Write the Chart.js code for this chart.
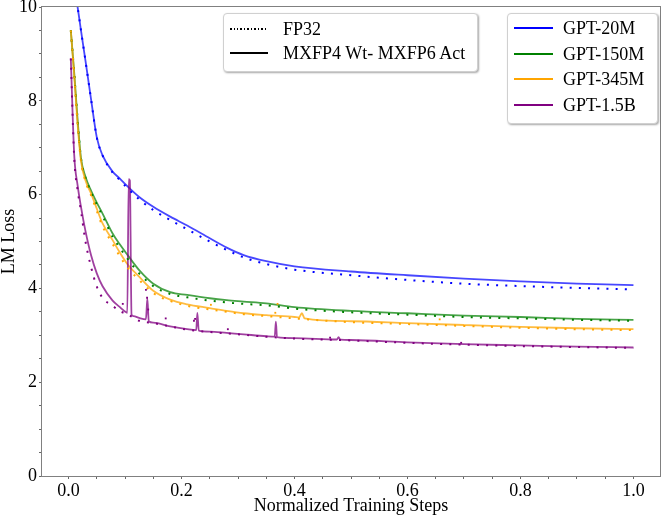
<!DOCTYPE html>
<html>
<head>
<meta charset="utf-8">
<script src="https://cdn.jsdelivr.net/npm/chart.js@4.4.1/dist/chart.umd.min.js"></script>
<style>
  body { margin: 0; background: #fff; }
  #wrap { position: relative; width: 664px; height: 517px; }
  canvas { position: absolute; left: 0; top: 0; }
  .legend {
    position: absolute; background: #fff; border: 1px solid #d0d0d0; border-radius: 4px;
    box-shadow: 1px 1px 2px rgba(0,0,0,0.35);
    font-family: 'Liberation Serif', 'Times New Roman', serif; font-size: 18px; color: #000;
  }
  .row { position: absolute; height: 20px; line-height: 20px; white-space: nowrap; }
  .sample { position: absolute; top: 9px; height: 2px; }
  .label { position: absolute; top: 0; }
</style>
</head>
<body>
<div id="wrap">
  <canvas id="chart" width="664" height="517"></canvas>
  <div class="legend" style="left:223px; top:13px; width:253px; height:57px;">
    <div class="row" style="top:5px; left:0; width:250px;">
      <div class="sample" style="left:6px; width:38px; height:1.5px; background: repeating-linear-gradient(90deg, #000 0 1.5px, transparent 1.5px 3.5px);"></div>
      <div class="label" style="left:59px;">FP32</div>
    </div>
    <div class="row" style="top:29px; left:0; width:250px;">
      <div class="sample" style="left:6px; width:38px; background:#000;"></div>
      <div class="label" style="left:59px;">MXFP4 Wt- MXFP6 Act</div>
    </div>
  </div>
  <div class="legend" id="legend2" style="left:507px; top:13px; width:149px; height:109px;"></div>
</div>
<script>
// normalized training steps (shared x grid)
const steps = [0.004, 0.01, 0.016, 0.022, 0.03, 0.04, 0.05, 0.06, 0.078, 0.09, 0.104, 0.125,
               0.15, 0.18, 0.21, 0.25, 0.28, 0.31, 0.35, 0.4, 0.5, 0.6, 0.7, 0.8, 0.9, 1.0]
// x grid for series with loss spikes
const steps345 = [0.004, 0.01, 0.016, 0.022, 0.03, 0.04, 0.05, 0.06, 0.078, 0.09, 0.104, 0.125,
                  0.15, 0.18, 0.21, 0.25, 0.28, 0.31, 0.35, 0.4, 0.408, 0.413, 0.418, 0.5, 0.6, 0.7, 0.8, 0.9, 1.0]
const steps1p5 = [0.004, 0.01, 0.016, 0.022, 0.03, 0.04, 0.05, 0.06, 0.078, 0.09, 0.102, 0.104, 0.1065, 0.1085,
                  0.1115, 0.115, 0.125, 0.137, 0.1395, 0.142, 0.15, 0.18, 0.21, 0.226, 0.228, 0.2305, 0.25,
                  0.28, 0.31, 0.35, 0.365, 0.367, 0.369, 0.4, 0.475, 0.478, 0.481, 0.5, 0.6, 0.7, 0.8, 0.9, 1.0]

// FP32 runs
const fp20M  = [10.9, 10.4, 10.0, 9.5, 8.85, 8.02, 7.22, 6.84, 6.47, 6.32, 6.14, 5.90, 5.67, 5.46, 5.26, 5.00, 4.82, 4.66, 4.52, 4.40, 4.28, 4.18, 4.10, 4.05, 4.01, 3.98]
const fp150M = [9.5, 8.6, 7.6, 6.78, 6.36, 6.05, 5.79, 5.55, 5.10, 4.88, 4.64, 4.32, 4.05, 3.88, 3.81, 3.74, 3.70, 3.67, 3.64, 3.57, 3.49, 3.44, 3.39, 3.36, 3.33, 3.31]
const fp345M = [9.5, 8.55, 7.5, 6.72, 6.28, 5.98, 5.65, 5.33, 4.95, 4.70, 4.45, 4.18, 3.90, 3.73, 3.63, 3.55, 3.50, 3.45, 3.41, 3.36, 3.28, 3.24, 3.20, 3.16, 3.13, 3.11]
const fp1p5B = [8.9, 6.8, 6.1, 5.65, 5.0, 4.45, 4.04, 3.80, 3.63, 3.52, 3.45, 3.31, 3.26, 3.19, 3.12, 3.07, 3.04, 3.01, 2.97, 2.93, 2.89, 2.84, 2.80, 2.77, 2.75, 2.73]

// FP32 stray evaluation points off the curve
const strayX345 = [0.252, 0.366, 0.37, 0.657]
const strayY345 = [3.65, 3.48, 3.67, 3.34]
const strayX1p5 = [0.096, 0.137, 0.139, 0.141, 0.172, 0.222, 0.224, 0.282, 0.463, 0.695]
const strayY1p5 = [3.67, 3.97, 3.80, 3.55, 3.36, 3.31, 3.35, 3.13, 2.95, 2.84]

// MXFP4 weights / MXFP6 activations runs
const mx20M  = [10.9, 10.4, 10.0, 9.5, 8.85, 8.02, 7.22, 6.84, 6.49, 6.35, 6.18, 5.95, 5.74, 5.53, 5.34, 5.07, 4.87, 4.71, 4.58, 4.47, 4.36, 4.28, 4.21, 4.15, 4.10, 4.07]
const mx150M = [9.5, 8.6, 7.6, 6.78, 6.38, 6.08, 5.83, 5.60, 5.17, 4.95, 4.72, 4.39, 4.10, 3.92, 3.86, 3.79, 3.75, 3.72, 3.68, 3.60, 3.52, 3.47, 3.42, 3.39, 3.35, 3.33]
const mx345M = [9.5, 8.55, 7.5, 6.72, 6.3, 6.02, 5.70, 5.39, 5.03, 4.78, 4.52, 4.25, 3.95, 3.76, 3.66, 3.58, 3.52, 3.47, 3.43, 3.39, 3.38, 3.47, 3.36, 3.30, 3.26, 3.22, 3.18, 3.15, 3.13]
const mx1p5B = [8.9, 6.85, 6.2, 5.74, 5.22, 4.70, 4.32, 4.05, 3.74, 3.61, 3.49, 3.48, 6.33, 6.30,
                3.44, 3.41, 3.37, 3.34, 3.78, 3.30, 3.27, 3.19, 3.13, 3.11, 3.48, 3.10, 3.08,
                3.05, 3.02, 2.98, 2.97, 3.29, 2.96, 2.94, 2.91, 2.96, 2.91, 2.90, 2.85, 2.81, 2.785, 2.76, 2.74]

const models = ['GPT-20M', 'GPT-150M', 'GPT-345M', 'GPT-1.5B']
const colors = ['#0000ff', '#008000', '#ffa500', '#800080']
const fade = ['rgba(0,0,255,0.72)', 'rgba(0,128,0,0.72)', 'rgba(255,165,0,0.75)', 'rgba(128,0,128,0.75)']

const pts = (xs, ys) => xs.map((x, i) => ({ x: x, y: ys[i] }))

const strays = [[strayX1p5, strayY1p5, 3], [strayX345, strayY345, 2]]
const fpRuns = [[steps, fp1p5B, 3], [steps, fp345M, 2], [steps, fp150M, 1], [steps, fp20M, 0]]
const mxRuns = [[steps1p5, mx1p5B, 3], [steps345, mx345M, 2], [steps, mx150M, 1], [steps, mx20M, 0]]

const datasets = []
strays.forEach(([xs, ys, c]) => {
    datasets.push({
        label: models[c] + ' FP32 stray', data: pts(xs, ys), showLine: false,
        pointStyle: 'rect', pointRadius: 1.3, pointBorderWidth: 0,
        pointBackgroundColor: colors[c], borderColor: colors[c], clip: 0
    })
})
fpRuns.forEach(([xs, ys, c]) => {
    datasets.push({
        label: models[c] + ' FP32', data: pts(xs, ys), borderColor: colors[c],
        borderWidth: 2, borderDash: [2, 7.2], borderCapStyle: 'butt',
        pointRadius: 0, cubicInterpolationMode: 'monotone', clip: 0
    })
})
mxRuns.forEach(([xs, ys, c]) => {
    datasets.push({
        label: models[c] + ' MX', data: pts(xs, ys), borderColor: fade[c],
        borderWidth: 1.8, pointRadius: 0, cubicInterpolationMode: 'monotone', clip: 0
    })
})

// second legend (model colours)
const leg2 = document.getElementById('legend2')
models.forEach((m, i) => {
    const row = document.createElement('div')
    row.className = 'row'
    row.style.top = (4 + i * 25.7) + 'px'
    row.style.left = '0'
    row.style.width = '148px'
    row.innerHTML = '<div class="sample" style="left:6px;width:39px;background:' + colors[i] + '"></div>' +
                    '<div class="label" style="left:55px;">' + m + '</div>'
    leg2.appendChild(row)
})

const frame = {
    id: 'frame',
    beforeDatasetsDraw(chart) {
        const { ctx, chartArea: a } = chart
        ctx.save()
        ctx.strokeStyle = '#808080'
        ctx.lineWidth = 1
        ctx.strokeRect(a.left - 0.5, a.top - 0.5, a.right - a.left + 1, a.bottom - a.top + 1)
        ctx.restore()
    }
}

const serif = 'Liberation Serif'

new Chart(document.getElementById('chart'), {
    type: 'line',
    data: { datasets: datasets },
    options: {
        responsive: false,
        animation: false,
        layout: { padding: { top: 7, right: 1, left: 0, bottom: 0 } },
        plugins: { legend: { display: false }, tooltip: { enabled: false } },
        scales: {
            x: {
                type: 'linear', min: -0.047, max: 1.047,
                border: { display: false },
                grid: { drawOnChartArea: false, drawTicks: true, tickLength: 3, color: '#666' },
                ticks: {
                    stepSize: 0.05, includeBounds: false, autoSkip: false, maxRotation: 0, padding: 1,
                    color: '#000', font: { family: serif, size: 18 },
                    callback: (v) => Math.abs(v / 0.2 - Math.round(v / 0.2)) < 1e-6 ? (Math.round(v * 10) / 10).toFixed(1) : ''
                },
                title: { display: true, text: 'Normalized Training Steps', color: '#000',
                         font: { family: serif, size: 18 }, padding: { top: 0, bottom: 0 } },
                afterFit: (s) => { s.height = 41; s.paddingLeft = 0; s.paddingRight = 0 }
            },
            y: {
                min: 0, max: 10,
                border: { display: false },
                grid: { drawOnChartArea: false, drawTicks: true, tickLength: 3, color: '#666' },
                ticks: {
                    stepSize: 0.5, autoSkip: false, padding: 2,
                    color: '#000', font: { family: serif, size: 18 },
                    callback: (v) => Math.abs(v % 2) < 1e-6 ? String(v) : ''
                },
                title: { display: true, text: 'LM Loss', color: '#000',
                         font: { family: serif, size: 18, lineHeight: 1 }, padding: { top: 0, bottom: 0 } },
                afterFit: (s) => { s.width = 42; s.paddingTop = 0; s.paddingBottom = 0 }
            }
        }
    },
    plugins: [frame]
})
</script>
</body>
</html>
